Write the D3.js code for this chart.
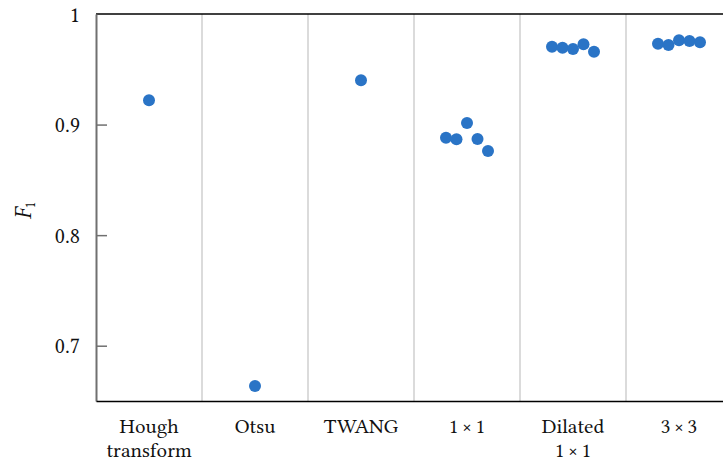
<!DOCTYPE html>
<html>
<head>
<meta charset="utf-8">
<script src="https://cdn.jsdelivr.net/npm/d3@7"></script>
<style>
  html, body { margin: 0; padding: 0; background: #fff; overflow: hidden; }
  svg text { font-feature-settings: "lnum" 1, "pnum" 1; font-variant-numeric: lining-nums; }
</style>
</head>
<body>
<svg id="chart" width="723" height="461"></svg>
<script>
// Methods compared on the x axis (multi-line labels split by "\n")
const categories = ["Hough\ntransform", "Otsu", "TWANG", "1\u2009\u00d7\u20091", "Dilated\n1\u2009\u00d7\u20091", "3\u2009\u00d7\u20093"];

// F1 scores per method; methods with several runs list each run
const houghScores   = [0.922];
const otsuScores    = [0.6636];
const twangScores   = [0.940];
const oneByOne      = [0.8881, 0.8867, 0.9014, 0.8870, 0.8761];
const dilatedOne    = [0.9704, 0.9695, 0.9683, 0.9726, 0.9659];
const threeByThree  = [0.9731, 0.9720, 0.9762, 0.9756, 0.9744];

const seriesValues = [houghScores, otsuScores, twangScores, oneByOne, dilatedOne, threeByThree];

const yTicks = [0.7, 0.8, 0.9, 1];
const yTickLabels = ["0.7", "0.8", "0.9", "1"];

const FONT = "'Libertinus Serif', 'Liberation Serif', serif";

const W = 723, H = 461;
const margin = { left: 96, top: 14, bottom: 60 };
const plotRight = 732;   // last column runs slightly past the window edge

const svg = d3.select("#chart");

function styleText(sel, size) {
  return sel.style("font-family", FONT)
    .style("font-size", size + "px")
    .style("fill", "#111");
}

const x = d3.scaleBand()
  .domain(categories)
  .range([margin.left, plotRight])
  .paddingInner(0).paddingOuter(0);

const y = d3.scaleLinear()
  .domain([0.65, 1])
  .range([H - margin.bottom, margin.top]);

const runStep = 10.5;  // horizontal spacing between runs inside a column

// column separators
svg.append("g")
  .selectAll("line")
  .data(categories.slice(1))
  .join("line")
  .attr("x1", d => x(d)).attr("x2", d => x(d))
  .attr("y1", margin.top).attr("y2", H - margin.bottom)
  .attr("stroke", "#c8c8c8").attr("stroke-width", 1.3);

// top frame line
svg.append("line")
  .attr("x1", margin.left).attr("x2", plotRight)
  .attr("y1", margin.top).attr("y2", margin.top)
  .attr("stroke", "#000").attr("stroke-width", 1.3);

// y axis (ticks point inward)
const yAxis = d3.axisLeft(y)
  .tickValues(yTicks)
  .tickFormat((d, i) => yTickLabels[i])
  .tickSizeInner(-11).tickSizeOuter(0).tickPadding(16);

const yG = svg.append("g")
  .attr("transform", `translate(${margin.left},0)`)
  .call(yAxis);
yG.select(".domain").attr("stroke", "#707070").attr("stroke-width", 2);
yG.selectAll(".tick line").attr("stroke", "#707070").attr("stroke-width", 1.5)
  .attr("display", d => d === 1 ? "none" : null);
styleText(yG.selectAll(".tick text"), 22);

// x axis
const xAxis = d3.axisBottom(x).tickSize(0).tickFormat("");
const xG = svg.append("g")
  .attr("transform", `translate(0,${H - margin.bottom})`)
  .call(xAxis);
xG.select(".domain").attr("stroke", "#000").attr("stroke-width", 1.5);

xG.selectAll(".tick").each(function(d) {
  const t = styleText(d3.select(this).append("text"), 21)
    .attr("text-anchor", "middle");
  d.split("\n").forEach((line, i) => {
    t.append("tspan").attr("x", 0).attr("y", 32 + i * 24).text(line);
  });
});

// y label: italic F with subscript 1
const yl = styleText(svg.append("text"), 24)
  .attr("transform", `translate(31,${(margin.top + H - margin.bottom) / 2 + 3}) rotate(-90)`)
  .attr("text-anchor", "middle");
yl.append("tspan").style("font-style", "italic").text("F");
yl.append("tspan").style("font-size", "15px").attr("dy", 4).text("1");

// points
const pts = [];
seriesValues.forEach((vals, ci) => {
  vals.forEach((v, ri) => {
    pts.push({ cat: categories[ci], v, off: (ri - (vals.length - 1) / 2) * runStep });
  });
});

svg.append("g")
  .selectAll("circle")
  .data(pts)
  .join("circle")
  .attr("cx", d => x(d.cat) + x.bandwidth() / 2 + d.off)
  .attr("cy", d => y(d.v))
  .attr("r", 6)
  .attr("fill", "#2a74c6");
</script>
</body>
</html>
